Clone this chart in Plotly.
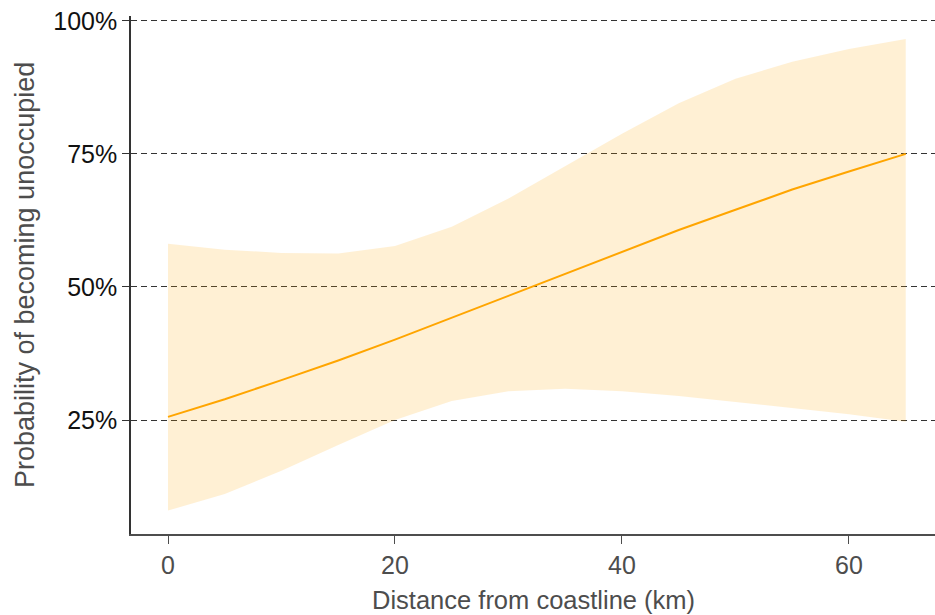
import plotly.graph_objects as go

# Data
distance_km = [0, 5, 10, 15, 20, 25, 30, 35, 40, 45, 50, 55, 60, 65]
prob_fit = [0.256, 0.289, 0.325, 0.362, 0.401, 0.442, 0.483, 0.525, 0.566, 0.607, 0.645, 0.683, 0.717, 0.750]
prob_lower = [0.080, 0.111, 0.155, 0.203, 0.250, 0.286, 0.304, 0.309, 0.304, 0.295, 0.284, 0.273, 0.261, 0.247]
prob_upper = [0.581, 0.570, 0.564, 0.563, 0.577, 0.613, 0.666, 0.727, 0.788, 0.845, 0.891, 0.923, 0.947, 0.966]

y_tick_vals = [0.25, 0.5, 0.75, 1.0]
y_tick_text = ["25%", "50%", "75%", "100%"]
x_tick_vals = [0, 20, 40, 60]

FONT = "Liberation Sans, Arial, Helvetica, sans-serif"

fig = go.Figure()

fig.add_trace(go.Scatter(
    x=distance_km + distance_km[::-1],
    y=prob_upper + prob_lower[::-1],
    fill="toself",
    fillcolor="rgba(255,165,0,0.17)",
    line=dict(width=0),
    mode="lines",
    hoverinfo="skip",
    showlegend=False,
))

fig.add_trace(go.Scatter(
    x=distance_km,
    y=prob_fit,
    mode="lines",
    line=dict(color="#FFA500", width=2),
    showlegend=False,
))

fig.update_layout(
    width=935,
    height=615,
    margin=dict(l=131, r=0, t=16, b=81),
    paper_bgcolor="white",
    plot_bgcolor="white",
    font=dict(family=FONT, size=25, color="#4d4d4d"),
    xaxis=dict(
        range=[-3.26, 67.58],
        tickvals=x_tick_vals,
        ticks="outside",
        ticklen=8,
        tickwidth=1.3,
        tickcolor="#4d4d4d",
        tickfont=dict(size=25, color="#4d4d4d"),
        showgrid=False,
        zeroline=False,
        showline=True,
        linecolor="#4d4d4d",
        linewidth=1.5,
    ),
    yaxis=dict(
        range=[0.036, 1.009],
        tickvals=y_tick_vals,
        ticktext=y_tick_text,
        ticks="outside",
        ticklen=7,
        tickwidth=1.3,
        tickcolor="#333333",
        tickfont=dict(size=25, color="#111111"),
        showgrid=True,
        gridcolor="#333333",
        gridwidth=1.2,
        griddash="6px,4px",
        zeroline=False,
        showline=True,
        linecolor="#333333",
        linewidth=1.5,
    ),
    annotations=[
        dict(
            text="Distance from coastline (km)",
            xref="paper", yref="paper",
            x=0.5, y=-0.127,
            xanchor="center", yanchor="middle",
            showarrow=False,
            font=dict(size=25.5, color="#4d4d4d"),
        ),
        dict(
            text="Probability of becoming unoccupied",
            xref="paper", yref="paper",
            x=-0.1318, y=0.5,
            xanchor="center", yanchor="middle",
            textangle=-90,
            showarrow=False,
            font=dict(size=27, color="#4d4d4d"),
        ),
    ],
)

fig.write_html(
    "out.html",
    config={"displayModeBar": False},
    post_script="document.body.style.margin='0';document.body.style.overflow='hidden';",
)
